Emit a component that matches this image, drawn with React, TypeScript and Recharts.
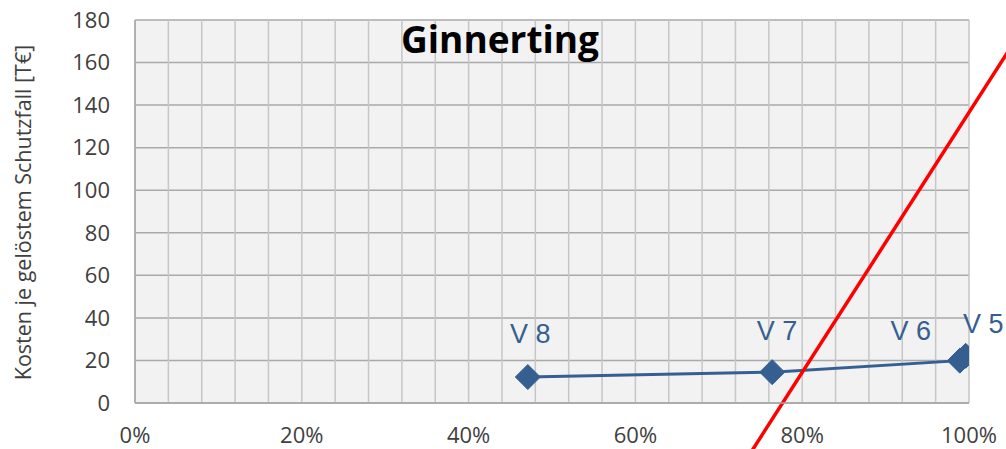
import React from 'react';
import { ComposedChart, Line, XAxis, YAxis, CartesianGrid, ReferenceLine, LabelList } from 'recharts';

// ---- data ----
const VARIANTS = ['V 8', 'V 7', 'V 6', 'V 5'];
const SHARE = [47.1, 76.4, 98.9, 99.6]; // % on x axis
const COST = [12.2, 14.5, 19.9, 22.2]; // T€
const X_TICKS = [0, 20, 40, 60, 80, 100];
const X_GRID = [0, 4, 8, 12, 16, 20, 24, 28, 32, 36, 40, 44, 48, 52, 56, 60, 64, 68, 72, 76, 80, 84, 88, 92, 96, 100];
const Y_TICKS = [0, 20, 40, 60, 80, 100, 120, 140, 160, 180];
const RED_X = [72, 107];
const RED_Y = [-34.5, 179.3];
const TITLE = 'Ginnerting';
const Y_LABEL = 'Kosten je gelöstem Schutzfall [T€]';

// label placement (px offsets from the marker), styling only
const LABEL_OFFSETS: Record<string, [number, number]> = {
  'V 8': [2.5, -34.4],
  'V 7': [4.8, -32.3],
  'V 6': [-49, -21],
  'V 5': [17.5, -23],
};

const data = VARIANTS.map((name, i) => ({ name, x: SHARE[i], y: COST[i] }));

const BLUE = '#365F91';
const TEXT = '#404040';
const FONT = '"Open Sans", sans-serif';

const renderLabel = (props: any) => {
  const { x, y, value } = props;
  const off = LABEL_OFFSETS[value] || [0, -30];
  return (
    <text
      x={Number(x) + off[0]}
      y={Number(y) + off[1]}
      textAnchor="middle"
      fill={BLUE}
      fontSize={27}
      fontFamily='"Liberation Sans", Arial, sans-serif'
    >
      {value}
    </text>
  );
};

const renderDiamond = (props: any) => {
  const { cx, cy, index } = props;
  const s = 12.5;
  return (
    <path
      key={`d-${index}`}
      d={`M${cx},${cy - s}L${cx + s},${cy}L${cx},${cy + s}L${cx - s},${cy}Z`}
      fill={BLUE}
      stroke={BLUE}
      strokeWidth={1}
    />
  );
};

export default function App() {
  return (
    <div style={{ position: 'absolute', left: 0, top: 0, width: 1006, height: 449, background: '#fff' }}>
      <ComposedChart
        width={1006}
        height={449}
        data={data}
        margin={{ top: 20, right: 37, bottom: 0, left: 0 }}
      >
        <CartesianGrid
          fill="#f2f2f2"
          vertical={false}
          stroke="#a9a9a9"
          strokeWidth={1.5}
        />
        <CartesianGrid
          xAxisId="grid"
          horizontal={false}
          stroke="#c6c6c6"
          strokeWidth={1.5}
        />
        <XAxis
          xAxisId="grid"
          type="number"
          dataKey="x"
          domain={[0, 100]}
          ticks={X_GRID}
          hide
        />
        <XAxis
          type="number"
          dataKey="x"
          domain={[0, 100]}
          ticks={X_TICKS}
          tickFormatter={(v: number) => `${v}%`}
          interval={0}
          height={46}
          tickLine={false}
          tickSize={0}
          tickMargin={24.5}
          axisLine={{ stroke: '#a6a6a6', strokeWidth: 1.5 }}
          tick={{ fill: TEXT, fontSize: 22, fontFamily: FONT }}
          allowDataOverflow
        />
        <YAxis
          type="number"
          domain={[0, 180]}
          ticks={Y_TICKS}
          interval={0}
          width={135}
          tickLine={false}
          tickSize={0}
          tickMargin={25}
          axisLine={{ stroke: '#a6a6a6', strokeWidth: 1.5 }}
          tick={{ fill: TEXT, fontSize: 22, fontFamily: FONT }}
          allowDataOverflow
          label={{
            value: Y_LABEL,
            angle: -90,
            position: 'center',
            dx: -44.5,
            dy: 1,
            fill: TEXT,
            fontSize: 21.5,
            fontFamily: FONT,
          }}
        />
        <Line
          type="linear"
          dataKey="y"
          stroke={BLUE}
          strokeWidth={3}
          dot={renderDiamond}
          activeDot={false}
          isAnimationActive={false}
        >
          <LabelList dataKey="name" content={renderLabel} />
        </Line>
        <ReferenceLine
          segment={[
            { x: RED_X[0], y: RED_Y[0] },
            { x: RED_X[1], y: RED_Y[1] },
          ]}
          stroke="#ff0000"
          strokeWidth={3.5}
          ifOverflow="visible"
        />
      </ComposedChart>
      <svg
        width={1006}
        height={449}
        style={{ position: 'absolute', left: 0, top: 0, pointerEvents: 'none' }}
      >
        <text
          x={500}
          y={53}
          textAnchor="middle"
          fontSize={37}
          fontWeight="bold"
          fontFamily={FONT}
          fill="#000"
        >
          {TITLE}
        </text>
      </svg>
    </div>
  );
}
